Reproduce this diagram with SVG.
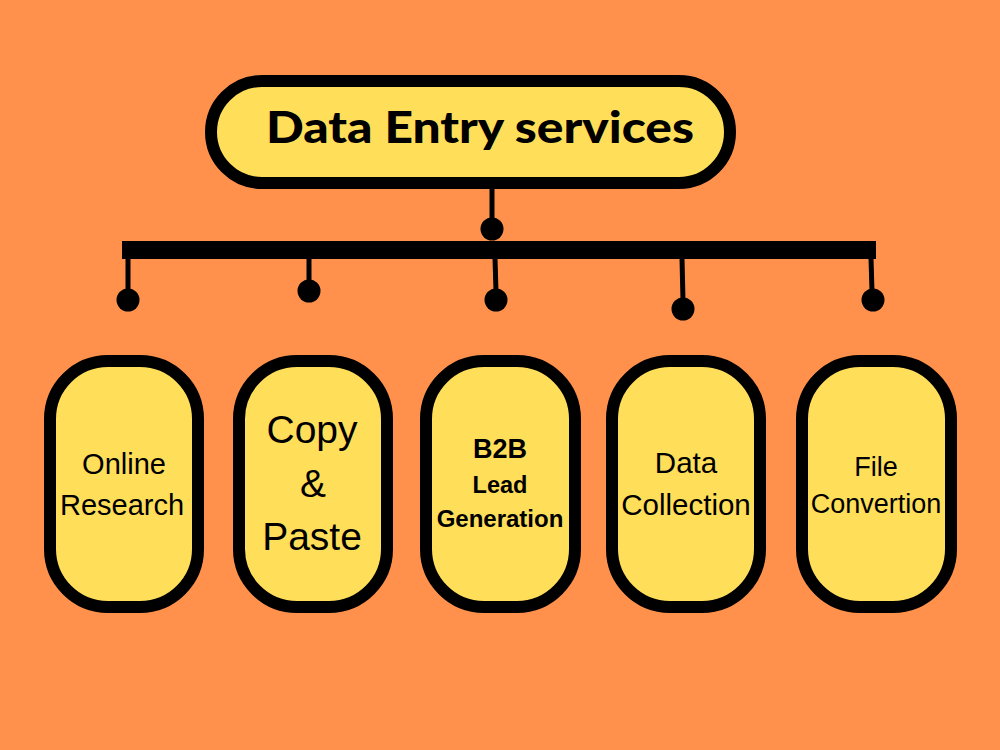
<svg xmlns="http://www.w3.org/2000/svg" width="1000" height="750" viewBox="0 0 1000 750">
<style>
.box{fill:#FFDE59;stroke:#000;stroke-width:12}
.t{font-family:"Liberation Sans",Arial,sans-serif;fill:#000;text-anchor:middle}
.b{font-weight:bold}
.ln{stroke:#000;stroke-width:5;fill:none}
</style>
<rect width="1000" height="750" fill="#FF914D"/>
<g id="connectors">
<line class="ln" x1="492" y1="186" x2="492" y2="222"/>
<circle cx="492" cy="229" r="11.5"/>
<rect x="122" y="241" width="754" height="18"/>
<line class="ln" x1="128" y1="258" x2="128" y2="292"/>
<circle cx="128" cy="300" r="11.5"/>
<line class="ln" x1="309" y1="258" x2="309" y2="283"/>
<circle cx="309" cy="291" r="11.5"/>
<line class="ln" x1="495" y1="258" x2="496" y2="292"/>
<circle cx="496" cy="300" r="11.5"/>
<line class="ln" x1="682" y1="258" x2="683" y2="301"/>
<circle cx="683" cy="309" r="11.5"/>
<line class="ln" x1="871" y1="258" x2="872" y2="292"/>
<circle cx="873" cy="300" r="11.5"/>
</g>
<g id="title">
<rect class="box" x="211" y="81" width="519" height="102" rx="51"/>
<text class="t" x="480" y="143" font-size="44" font-weight="900" style="font-family:Lato,'Liberation Sans',sans-serif" textLength="428" lengthAdjust="spacingAndGlyphs">Data Entry services</text>
</g>
<g id="online-research">
<rect class="box" x="50" y="361" width="148" height="246" rx="58"/>
<text class="t" x="124" y="474" font-size="29">Online</text>
<text class="t" x="122" y="515" font-size="29">Research</text>
</g>
<g id="copy-paste">
<rect class="box" x="239" y="361" width="148" height="246" rx="58"/>
<text class="t" x="312" y="443" font-size="39">Copy</text>
<text class="t" x="313" y="497" font-size="39">&amp;</text>
<text class="t" x="312" y="550" font-size="39">Paste</text>
</g>
<g id="b2b-lead-generation">
<rect class="box" x="426" y="361" width="149" height="246" rx="58"/>
<text class="t b" x="500" y="458" font-size="27">B2B</text>
<text class="t b" x="500" y="493" font-size="23.5">Lead</text>
<text class="t b" x="500" y="527" font-size="24">Generation</text>
</g>
<g id="data-collection">
<rect class="box" x="612" y="361" width="148" height="246" rx="58"/>
<text class="t" x="686" y="473" font-size="29.5">Data</text>
<text class="t" x="686" y="515" font-size="29.5">Collection</text>
</g>
<g id="file-convertion">
<rect class="box" x="802" y="361" width="149" height="246" rx="58"/>
<text class="t" x="876" y="476" font-size="27">File</text>
<text class="t" x="876" y="513" font-size="27">Convertion</text>
</g>
</svg>
